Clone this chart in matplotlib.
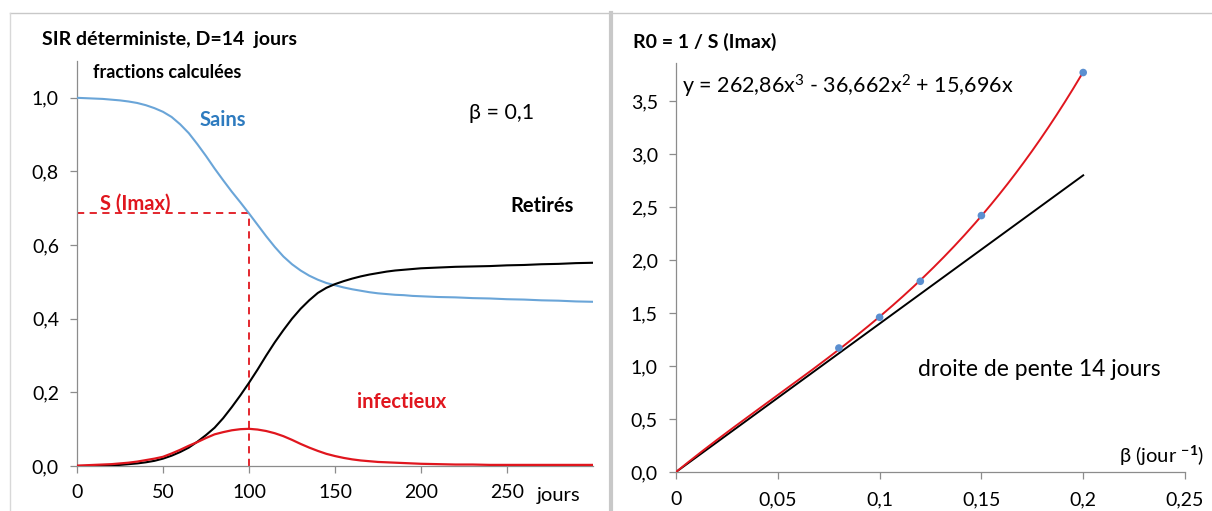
import numpy as np
import matplotlib
matplotlib.use("Agg")
import matplotlib.pyplot as plt
from matplotlib.ticker import FuncFormatter
from matplotlib.lines import Line2D

plt.rcParams['font.family'] = ['Lato', 'DejaVu Sans']
plt.rcParams['mathtext.fontset'] = 'custom'
plt.rcParams['mathtext.rm'] = 'Lato'
plt.rcParams['mathtext.it'] = 'Lato:italic'
plt.rcParams['mathtext.bf'] = 'Lato:bold'

# ---------------- data: left panel (SIR deterministic, beta = 0.1) -------------
jours = [0, 5, 10, 15, 20, 25, 30, 35, 40, 45, 50, 55, 60, 65, 70, 75, 80, 85, 90, 95,
         100, 105, 110, 115, 120, 125, 130, 135, 140, 145, 150, 155, 160, 165, 170,
         175, 180, 185, 190, 195, 200, 210, 220, 230, 240, 250, 260, 270, 280, 290, 300]
sains = [1.000, 0.999, 0.998, 0.997, 0.995, 0.993, 0.990, 0.986, 0.980, 0.972,
         0.962, 0.948, 0.928, 0.904, 0.874, 0.842, 0.808, 0.776, 0.745, 0.716,
         0.686, 0.655, 0.624, 0.595, 0.569, 0.548, 0.531, 0.517, 0.506, 0.497,
         0.491, 0.485, 0.480, 0.476, 0.472, 0.469, 0.467, 0.465, 0.464, 0.462,
         0.461, 0.459, 0.458, 0.456, 0.455, 0.453, 0.452, 0.450, 0.449, 0.447, 0.446]
infectieux = [0.001, 0.002, 0.003, 0.004, 0.005, 0.007, 0.009, 0.012, 0.016, 0.020,
              0.025, 0.034, 0.044, 0.055, 0.065, 0.076, 0.086, 0.092, 0.097, 0.100,
              0.101, 0.099, 0.095, 0.089, 0.081, 0.071, 0.060, 0.050, 0.041, 0.033,
              0.027, 0.022, 0.018, 0.015, 0.013, 0.011, 0.010, 0.009, 0.008, 0.007,
              0.006, 0.005, 0.004, 0.004, 0.003, 0.003, 0.003, 0.003, 0.003, 0.003, 0.003]
retires = [0.000, 0.000, 0.001, 0.001, 0.002, 0.003, 0.005, 0.007, 0.010, 0.014,
           0.020, 0.028, 0.038, 0.050, 0.066, 0.084, 0.104, 0.130, 0.160, 0.192,
           0.226, 0.262, 0.300, 0.336, 0.369, 0.400, 0.427, 0.450, 0.470, 0.484,
           0.494, 0.502, 0.509, 0.515, 0.520, 0.524, 0.528, 0.531, 0.533, 0.535,
           0.537, 0.539, 0.541, 0.542, 0.543, 0.545, 0.546, 0.548, 0.549, 0.551, 0.552]
t_imax = 100
s_imax = 0.686

# ---------------- data: right panel (R0 = 1 / S(Imax)) -------------------------
beta_pts = [0.08, 0.10, 0.12, 0.15, 0.20]
r0_pts = [1.17, 1.46, 1.80, 2.42, 3.77]
trend_coefs = [262.86, -36.662, 15.696, 0.0]   # Excel trendline shown on chart
droite_beta = [0.0, 0.20]
droite_r0 = [0.0, 2.80]

W, H = 1212, 511
fig = plt.figure(figsize=(W / 100, H / 100), dpi=100)

def fx(x):
    return x / W

def fy(y):
    return 1 - y / H

BLUE_LINE = '#6aa5d8'
BLUE_TEXT = '#2e7bbf'
RED = '#e0161e'
GRAY = '#8c8c8c'
TICK_FS = 14

# panel frames
fig.add_artist(Line2D([fx(10), fx(1212)], [fy(13), fy(13)], color='#c8c8c8', lw=1.0))
fig.add_artist(Line2D([fx(611), fx(611)], [fy(13), fy(511)], color='#c8c8c8', lw=3.0))
fig.add_artist(Line2D([fx(10), fx(10)], [fy(13), fy(511)], color='#d8d8d8', lw=1.0))

def style_axes(ax):
    for s in ['top', 'right']:
        ax.spines[s].set_visible(False)
    for s in ['left', 'bottom']:
        ax.spines[s].set_color(GRAY)
        ax.spines[s].set_linewidth(0.9)
    ax.tick_params(axis='both', colors=GRAY, length=5, width=0.9,
                   labelsize=TICK_FS, labelcolor='#000000', direction='out')

comma1 = FuncFormatter(lambda v, p: f"{v:.1f}".replace('.', ','))

# ---------------- left panel ----------------
axL = fig.add_axes([fx(77), fy(466), fx(593) - fx(77), fy(61) - fy(466)])
style_axes(axL)
axL.set_xlim(0, 300)
axL.set_ylim(0, 1.1)
axL.set_xticks([0, 50, 100, 150, 200, 250])
axL.set_yticks([0, 0.2, 0.4, 0.6, 0.8, 1.0])
axL.yaxis.set_major_formatter(comma1)
axL.tick_params(axis='x', pad=8)
axL.tick_params(axis='y', pad=8)

axL.plot(jours, sains, color=BLUE_LINE, lw=1.5, zorder=3)
axL.plot(jours, retires, color='black', lw=1.5, zorder=3)
axL.plot(jours, infectieux, color=RED, lw=1.6, zorder=4)
axL.plot([0, t_imax], [s_imax, s_imax], color=RED, lw=1.3, ls=(0, (4, 3)), zorder=2)
axL.plot([t_imax, t_imax], [0, s_imax], color=RED, lw=1.3, ls=(0, (4, 3)), zorder=2)

fig.text(fx(42), fy(40), "SIR déterministe, D=14  jours", fontsize=14, fontweight='bold',
         va='center', ha='left')
fig.text(fx(93), fy(72), "fractions calculées", fontsize=13, fontweight='bold',
         va='center', ha='left')
fig.text(fx(200), fy(120), "Sains", fontsize=14.5, fontweight='bold', color=BLUE_TEXT,
         va='center', ha='left')
fig.text(fx(469), fy(113), "β = 0,1", fontsize=15.5, va='center', ha='left')
fig.text(fx(100), fy(204), "S (Imax)", fontsize=14.5, fontweight='bold', color=RED,
         va='center', ha='left')
fig.text(fx(510), fy(206), "Retirés", fontsize=14.5, fontweight='bold', color='black',
         va='center', ha='left')
fig.text(fx(357), fy(402), "infectieux", fontsize=14.5, fontweight='bold', color=RED,
         va='center', ha='left')
fig.text(fx(537), fy(496), "jours", fontsize=TICK_FS + 0.5, va='center', ha='left')

# ---------------- right panel ----------------
axR = fig.add_axes([fx(676), fy(472), fx(1185) - fx(676), fy(63) - fy(472)])
style_axes(axR)
axR.set_xlim(0, 0.25)
axR.set_ylim(0, 3.86)
axR.set_xticks([0, 0.05, 0.1, 0.15, 0.2, 0.25])
axR.set_yticks([0, 0.5, 1.0, 1.5, 2.0, 2.5, 3.0, 3.5])
axR.xaxis.set_major_formatter(FuncFormatter(lambda v, p: f"{v:g}".replace('.', ',')))
axR.yaxis.set_major_formatter(comma1)
axR.tick_params(axis='x', pad=9)
axR.tick_params(axis='y', pad=8)

bfine = np.linspace(0, max(beta_pts), 200)
axR.plot(droite_beta, droite_r0, color='black', lw=1.4, zorder=2)
axR.plot(bfine, np.polyval(trend_coefs, bfine), color=RED, lw=1.4, zorder=3)
axR.scatter(beta_pts, r0_pts, s=30, color='#5b8fd0', zorder=4, edgecolors='none')

fig.text(fx(633), fy(42), "R0 = 1 / S (Imax)", fontsize=14, fontweight='bold',
         va='center', ha='left')
fig.text(fx(682), fy(86), "y = 262,86x$^{3}$ - 36,662x$^{2}$ + 15,696x", fontsize=15.5,
         va='center', ha='left')
fig.text(fx(918), fy(370), "droite de pente 14 jours", fontsize=16.5, va='center', ha='left')
fig.text(fx(1119), fy(456), r"β (jour $^{\mathbf{-1}}$)", fontsize=14.5, va='center', ha='left')

fig.savefig("out.png", dpi=100)
